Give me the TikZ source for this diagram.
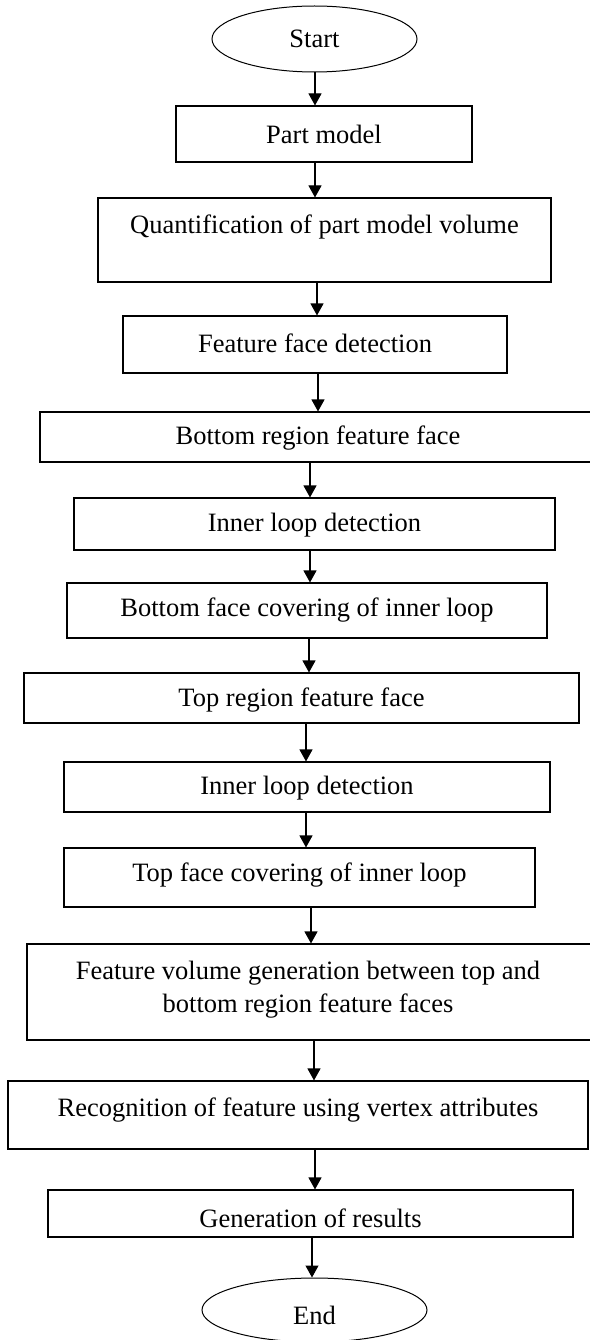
\documentclass[tikz,border=0pt]{standalone}
\usepackage{fontspec}
\setmainfont{Liberation Serif}
\usetikzlibrary{shapes.geometric,arrows.meta}
\begin{document}
\begin{tikzpicture}[x=1pt,y=-1pt,
  box/.style={draw,line width=1.1pt,rectangle,inner sep=0pt},
  oval/.style={draw,line width=1pt,ellipse,inner sep=0pt},
  txt/.style={inner sep=0pt,font=\fontsize{26.5}{33}\selectfont,align=center},
  arr/.style={line width=1.1pt,-{Triangle[length=12pt,width=13pt]}}]
\useasboundingbox (0,0) rectangle (589,1340);
% shapes
\node[oval,minimum width=205pt,minimum height=66pt] (start) at (314.5,39) {};
\node[txt] at (start.center) {Start};
\node[box,minimum width=296pt,minimum height=56pt] (pm) at (324,134) {};
\node[txt] at (324,134) {Part model};
\node[box,minimum width=453pt,minimum height=84pt] (q) at (324.5,240) {};
\node[txt] at (324.5,227) {Quantification of part model volume};
\node[box,minimum width=384pt,minimum height=57pt] (ff) at (315,344.5) {};
\node[txt] at (315,343) {Feature face detection};
\node[box,minimum width=556pt,minimum height=50pt] (br) at (318,437) {};
\node[txt] at (318,438) {Bottom region feature face};
\node[box,minimum width=481pt,minimum height=52pt] (ila) at (314.5,524) {};
\node[txt] at (314.5,525) {Inner loop detection};
\node[box,minimum width=480pt,minimum height=55pt] (bf) at (307,610.5) {};
\node[txt] at (307,610) {Bottom face covering of inner loop};
\node[box,minimum width=555pt,minimum height=50pt] (tr) at (301.5,698) {};
\node[txt] at (301.5,700) {Top region feature face};
\node[box,minimum width=486pt,minimum height=50pt] (ilb) at (307,787) {};
\node[txt] at (307,788) {Inner loop detection};
\node[box,minimum width=471pt,minimum height=59pt] (tf) at (299.5,877.5) {};
\node[txt] at (299.5,875) {Top face covering of inner loop};
\node[box,minimum width=568pt,minimum height=96pt] (fv) at (311,992) {};
\node[txt] at (308,989.5) {Feature volume generation between top and\\bottom region feature faces};
\node[box,minimum width=580pt,minimum height=68pt] (rec) at (298,1115) {};
\node[txt] at (298,1110) {Recognition of feature using vertex attributes};
\node[box,minimum width=525pt,minimum height=47pt] (gen) at (310.5,1213.5) {};
\node[txt] at (310.5,1218) {Generation of results};
\node[oval,minimum width=225pt,minimum height=64pt] (end) at (314.5,1310) {};
\node[txt] at (314.5,1315) {End};
% connectors
\draw[arr] ([xshift=0.5pt]start.south) -- ([xshift=-9pt]pm.north);
\draw[arr] ([xshift=-9pt]pm.south) -- ([xshift=-9.5pt]q.north);
\draw[arr] ([xshift=-7.5pt]q.south) -- ([xshift=2pt]ff.north);
\draw[arr] ([xshift=3pt]ff.south) -- ([xshift=0pt]br.north);
\draw[arr] ([xshift=-8pt]br.south) -- ([xshift=-4.5pt]ila.north);
\draw[arr] ([xshift=-4.5pt]ila.south) -- ([xshift=3pt]bf.north);
\draw[arr] ([xshift=2pt]bf.south) -- ([xshift=7.5pt]tr.north);
\draw[arr] ([xshift=4.5pt]tr.south) -- ([xshift=-1pt]ilb.north);
\draw[arr] ([xshift=-1pt]ilb.south) -- ([xshift=6.5pt]tf.north);
\draw[arr] ([xshift=11.5pt]tf.south) -- ([xshift=0pt]fv.north);
\draw[arr] ([xshift=3pt]fv.south) -- ([xshift=16pt]rec.north);
\draw[arr] ([xshift=17pt]rec.south) -- ([xshift=4.5pt]gen.north);
\draw[arr] ([xshift=1.5pt]gen.south) -- ([xshift=-2.5pt]end.north);
\end{tikzpicture}
\end{document}
